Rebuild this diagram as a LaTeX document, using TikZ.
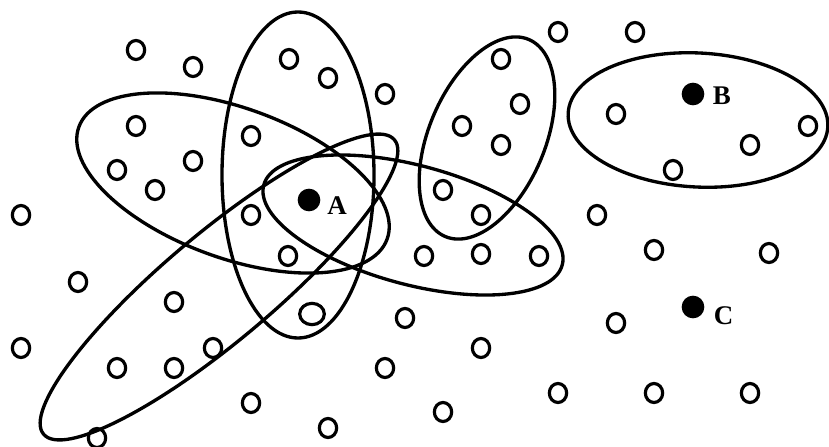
\documentclass[tikz,border=0pt]{standalone}
\usepackage{fontspec}
\setmainfont{Liberation Serif}
\usepackage{tikz}
\usetikzlibrary{positioning,shapes.geometric}
\tikzset{
    pt/.style={draw, ellipse, line width=0.095cm, inner sep=0pt,
               minimum width=0.52cm, minimum height=0.57cm},
    bigpt/.style={pt, minimum width=0.74cm, minimum height=0.64cm},
    dot/.style={circle, fill=black, inner sep=0pt, minimum size=0.68cm},
    grp/.style={draw, ellipse, line width=0.1cm, inner sep=0pt},
    lbl/.style={font=\fontsize{23}{26}\selectfont\bfseries, inner sep=0pt},
}

\begin{document}
\begin{tikzpicture}[x=0.03cm, y=-0.03cm]
    \useasboundingbox (0,0) rectangle (829,447);
    % clusters
    \node[grp, minimum width=9.84cm, minimum height=4.5cm, rotate=-20] (g1) at (233,183) {};
    \node[grp, minimum width=4.56cm, minimum height=9.78cm] (g2) at (298,175) {};
    \node[grp, minimum width=13.74cm, minimum height=3.24cm, rotate=40] (g3) at (219,287) {};
    \node[grp, minimum width=9.27cm, minimum height=3.57cm, rotate=-15] (g4) at (413,225) {};
    \node[grp, minimum width=6.42cm, minimum height=3.48cm, rotate=67] (g5) at (487,138) {};
    \node[grp, minimum width=7.8cm, minimum height=4.02cm, rotate=-3] (g6) at (698,120) {};
    % data points
    \foreach \px/\py [count=\i] in {136/50, 193/67, 289/59, 328/78, 385/94,
        136/126, 251/136, 193/161, 117/170, 155/190, 21/215, 251/215,
        558/32, 635/32, 501/59, 520/104, 462/126, 501/145, 616/114,
        808/126, 750/145, 673/170, 443/190, 481/215, 597/215,
        288/256, 78/282, 174/302, 405/318, 21/348, 117/368, 174/368,
        213/348, 385/368, 251/403, 328/428, 97/438, 424/256, 481/254,
        539/256, 654/250, 769/253, 616/323, 481/348, 558/393, 654/393,
        750/393, 443/412}
        \node[pt] (p\i) at (\px,\py) {};
    \node[bigpt] (pbig) at (312,314) {};
    % centres
    \node[dot] (dA) at (309,200) {};
    \node[dot] (dB) at (693,94) {};
    \node[dot] (dC) at (693,307) {};
    \node[lbl, right=0.2cm of dA, yshift=-0.18cm] (lA) {A};
    \node[lbl, right=0.24cm of dB, yshift=-0.06cm] (lB) {B};
    \node[lbl, right=0.27cm of dC, yshift=-0.27cm] (lC) {C};
\end{tikzpicture}
\end{document}
